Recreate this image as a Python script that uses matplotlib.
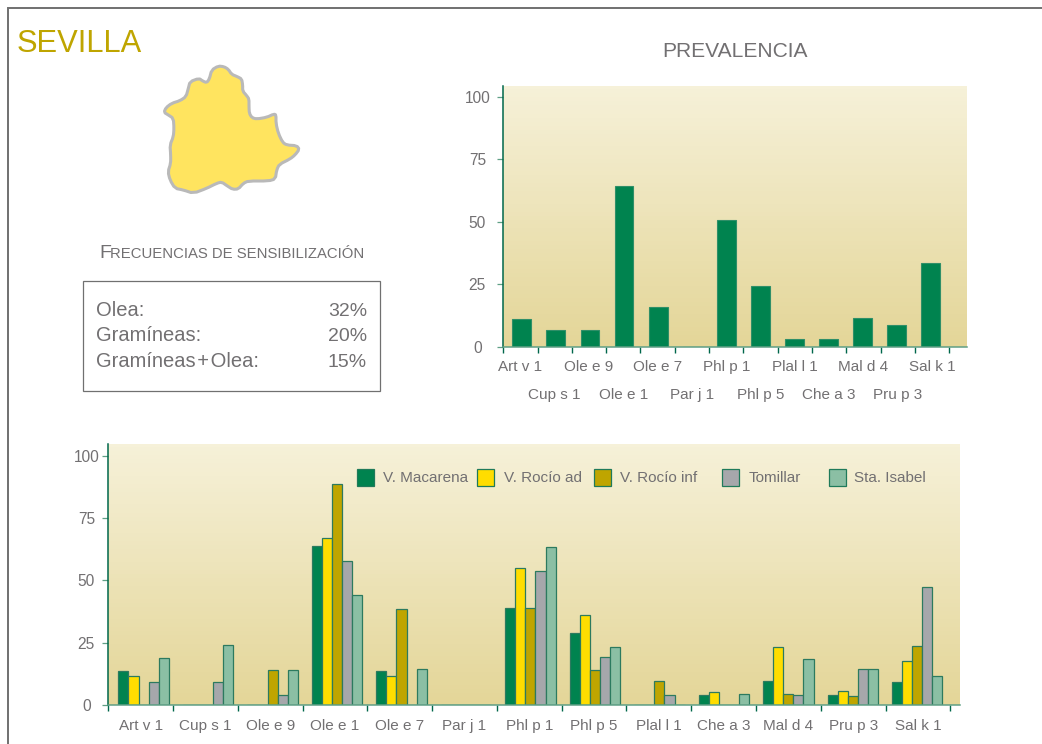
import numpy as np
import matplotlib
matplotlib.use("Agg")
import matplotlib.pyplot as plt
from matplotlib.colors import LinearSegmentedColormap
from matplotlib.patches import Polygon, Rectangle

plt.rcParams['font.family'] = ['Liberation Sans', 'DejaVu Sans']

W = 1042
H = 744
TEXT_COLOR = '#727072'
AXIS_DARK = '#00674b'
AXIS_LIGHT = '#5f9f85'

categories = ['Art v 1', 'Cup s 1', 'Ole e 9', 'Ole e 1', 'Ole e 7', 'Par j 1', 'Phl p 1',
              'Phl p 5', 'Plal l 1', 'Che a 3', 'Mal d 4', 'Pru p 3', 'Sal k 1']
prevalencia = [11, 6.7, 6.7, 64.4, 15.9, 0, 50.7, 24.4, 3.2, 3.2, 11.5, 8.7, 33.6]

macarena = [13.6, 0, 0, 63.6, 13.6, 0, 39, 29, 0, 4, 9.6, 4, 9.2]
rocio_ad = [11.6, 0, 0, 67, 11.6, 0, 54.8, 36.2, 0, 5.2, 23.4, 5.6, 17.5]
rocio_inf = [0, 0, 13.9, 88.5, 38.5, 0, 39, 13.9, 9.6, 0, 4.4, 3.6, 23.8]
tomillar = [9.2, 9.2, 4, 57.9, 0, 0, 53.6, 19.1, 4, 0, 4, 14.3, 47.3]
sta_isabel = [19, 24, 13.9, 44, 14.3, 0, 63.5, 23.4, 0, 4.4, 18.3, 14.3, 11.6]

series_names = ['V. Macarena', 'V. Rocío ad', 'V. Rocío inf', 'Tomillar', 'Sta. Isabel']
series_colors = ['#00834f', '#ffdd00', '#bfa500', '#a6a7ab', '#8bbfa4']

y_ticks = [0, 25, 50, 75, 100]

freq_names = ['Olea:', 'Gramíneas:', 'Gramíneas\u200a+\u200aOlea:']
freq_values = ['32%', '20%', '15%']

# outline of the province, traced on a 3x crop starting at pixel (150, 55)
map_x = [205, 222, 235, 245, 262, 275, 278, 278, 290, 297, 297, 298, 306, 320, 350, 372, 378, 378, 385, 398,
         410, 440, 448, 435, 420, 388, 380, 376, 355, 295, 280, 265, 248, 232, 215, 200, 170, 130, 100, 75,
         60, 54, 62, 62, 60, 70, 72, 70, 55, 42, 48, 65, 90, 108, 115, 120, 147, 158, 170, 178, 185]
map_y = [33, 35, 43, 58, 65, 72, 90, 108, 122, 132, 155, 175, 188, 192, 187, 177, 180, 205, 235, 262,
         270, 272, 283, 300, 312, 328, 345, 372, 378, 378, 385, 402, 403, 393, 381, 385, 400, 415, 405, 400,
         375, 350, 325, 300, 270, 245, 220, 190, 180, 172, 158, 145, 137, 125, 100, 80, 70, 78, 83, 72, 45]


def smooth(points, rounds=1):
    for r in range(rounds):
        nxt = np.roll(points, -1, axis=0)
        points = np.column_stack([0.75 * points + 0.25 * nxt, 0.25 * points + 0.75 * nxt]).reshape(-1, 2)
    return points


def make_axes(left, right, top, bottom):
    return fig.add_axes([left / W, 1 - bottom / H, (right - left) / W, (bottom - top) / H])


def style_axes(ax, xmax, ymax, ypad):
    cmap = LinearSegmentedColormap.from_list('bg', ['#f6f1d9', '#e4d698'])
    ax.imshow(np.linspace(0, 1, 64).reshape(-1, 1), extent=[0, xmax, 0, ymax], aspect='auto',
              cmap=cmap, origin='upper', zorder=0)
    ax.set_xlim(0, xmax)
    ax.set_ylim(0, ymax)
    for s in ['top', 'right']:
        ax.spines[s].set_visible(False)
    ax.spines['left'].set_color(AXIS_DARK)
    ax.spines['bottom'].set_color(AXIS_LIGHT)
    ax.spines['left'].set_linewidth(1.1)
    ax.spines['bottom'].set_linewidth(1.1)
    ax.set_yticks(y_ticks)
    ax.tick_params(axis='y', length=4.3, width=0.9, color=AXIS_LIGHT, pad=ypad, labelsize=11.2,
                   labelcolor=TEXT_COLOR)
    for lab in ax.get_yticklabels():
        lab.set_ha('center')
    ax.set_xticks(np.arange(len(categories)) + 0.5)
    ax.set_xticklabels(categories)
    ax.set_xticks(np.arange(len(categories) + 1), minor=True)
    ax.tick_params(axis='x', which='major', length=0, labelsize=11, labelcolor=TEXT_COLOR)
    ax.tick_params(axis='x', which='minor', length=4, width=1, color=AXIS_DARK)


fig = plt.figure(figsize=(W / 100, H / 100), dpi=100, facecolor='white')

# top chart
ax1 = make_axes(503.3, 967, 86, 347)
style_axes(ax1, 13.52, 104.4, 14.4)
ax1.bar(0.54 + 0.9933 * np.arange(len(categories)), prevalencia, width=0.55, color=series_colors[0],
        edgecolor='#2f8f68', linewidth=0.8, zorder=2)
ticks = ax1.xaxis.get_major_ticks()
for i in range(len(ticks)):
    ticks[i].set_pad(9.7 if i % 2 == 0 else 29.8)

# bottom chart
ax2 = make_axes(108.3, 960, 444, 705)
style_axes(ax2, 13.15, 104.7, 11.5)
ax2.tick_params(axis='x', which='major', pad=10)
bar_w = 0.1555
all_series = [macarena, rocio_ad, rocio_inf, tomillar, sta_isabel]
for i in range(len(all_series)):
    ax2.bar(0.545 + 0.9955 * np.arange(len(categories)) + (i - 2) * bar_w, all_series[i], width=bar_w,
            color=series_colors[i], edgecolor='#2c7a5f', linewidth=0.9, zorder=2)

# everything else is placed in picture pixels
px = fig.add_axes([0, 0, 1, 1], zorder=5)
px.set_xlim(0, W)
px.set_ylim(H, 0)
px.axis('off')
px.patch.set_alpha(0)

px.plot([1042, 8, 8], [8, 8, 744], color='#707070', lw=1.4, solid_joinstyle='miter')
px.text(17, 51.5, 'SEVILLA', color='#bfa500', fontsize=22.2, va='baseline', ha='left')
px.text(734.5, 57, 'PREVALENCIA', color=TEXT_COLOR, fontsize=15.1, va='baseline', ha='center')

outline = smooth(np.column_stack([np.array(map_x) / 3.0 + 150, np.array(map_y) / 3.0 + 55]))
px.add_patch(Polygon(outline, closed=True, facecolor='#ffe45f', edgecolor='#b9b9b9', lw=2.2,
                     joinstyle='round'))

px.text(99, 258, 'F', color=TEXT_COLOR, fontsize=14, va='baseline', ha='left')
px.text(110, 258, 'RECUENCIAS DE SENSIBILIZACIÓN', color=TEXT_COLOR, fontsize=10.7, va='baseline', ha='left')

px.add_patch(Rectangle((82.5, 280.5), 297.5, 110.5, facecolor='none', edgecolor='#707070', lw=0.9))
row_y = [316, 341, 367]
for i in range(len(freq_names)):
    px.text(96, row_y[i], freq_names[i], color=TEXT_COLOR, fontsize=14.5, va='baseline', ha='left')
    px.text(367, row_y[i], freq_values[i], color=TEXT_COLOR, fontsize=14, va='baseline', ha='right')

swatch_x = [357, 477, 594, 722, 829]
label_x = [383, 504, 620, 749, 854]
for i in range(len(series_names)):
    px.add_patch(Rectangle((swatch_x[i], 468.5), 16.5, 17, facecolor=series_colors[i],
                           edgecolor='#1f7a5a', lw=0.9))
    px.text(label_x[i], 478, series_names[i], color=TEXT_COLOR, fontsize=11, va='center', ha='left')

fig.savefig('out.png', dpi=100)
